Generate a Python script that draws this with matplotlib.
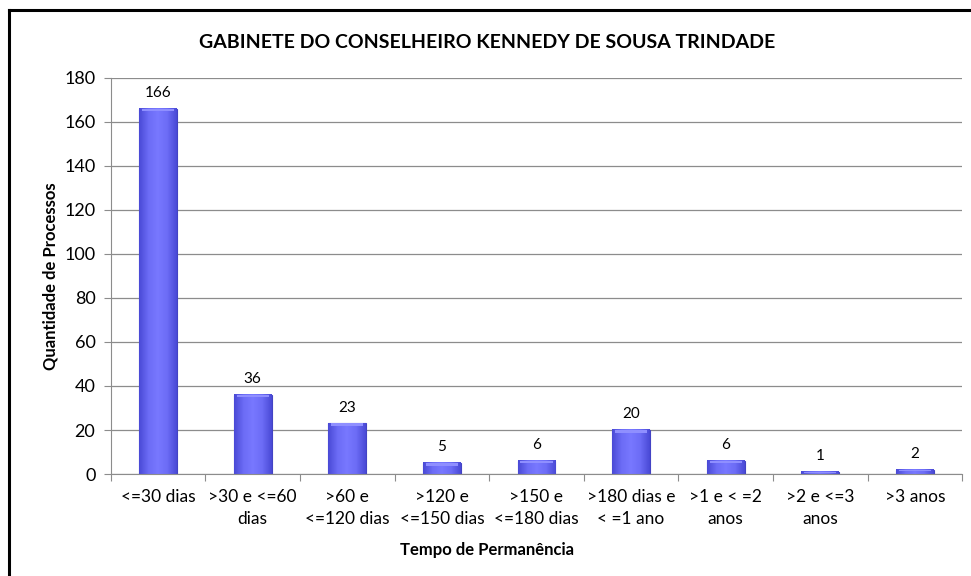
# bar chart - tempo de permanencia dos processos

import numpy as np
import matplotlib.pyplot as plt
from matplotlib.colors import LinearSegmentedColormap
from matplotlib.lines import Line2D

plt.rcParams['font.family'] = ['Lato', 'DejaVu Sans']

categories = ['<=30 dias', '>30 e <=60\ndias', '>60 e\n<=120 dias', '>120 e\n<=150 dias',
              '>150 e\n<=180 dias', '>180 dias e\n< =1 ano', '>1 e < =2\nanos', '>2 e <=3\nanos',
              '>3 anos']
values = [166, 36, 23, 5, 6, 20, 6, 1, 2]

title = 'GABINETE DO CONSELHEIRO KENNEDY DE SOUSA TRINDADE'
x_label = 'Tempo de Permanência'
y_label = 'Quantidade de Processos'

fig = plt.figure(figsize=(9.71, 5.76), dpi=100)
ax = fig.add_axes([0.114, 0.177, 0.877, 0.688])

ind = np.arange(len(values))
width = 0.4

# gradient for the bars (darker on the sides, lighter in the middle)
cmap = LinearSegmentedColormap.from_list('barblue', ['#4a4ad6', '#6c6cf6', '#7878ff', '#6c6cf6', '#4a4ad6'])
grad = np.linspace(0, 1, 64).reshape(1, -1)

bars = ax.bar(ind, values, width, color='#6c6cf6', edgecolor='#4343c4', linewidth=0.8, zorder=2)
for rect in bars:
    x0 = rect.get_x()
    h = rect.get_height()
    ax.imshow(grad, extent=(x0, x0 + width, 0, h), aspect='auto', cmap=cmap, zorder=2.5)
    # lighter top bevel
    bev = min(1.2, h * 0.3)
    ax.fill_between([x0 + 0.03, x0 + width - 0.03], h - bev, h, color='#8f8fff', lw=0, zorder=2.6)

for i, v in enumerate(values):
    ax.text(i, v + 4, str(v), ha='center', va='bottom', fontsize=11, zorder=3)

ax.set_xlim(-0.5, len(values) - 0.5)
ax.set_ylim(0, 180)
ax.set_yticks(np.arange(0, 181, 20))
ax.yaxis.grid(True, color='#8c8c8c', linewidth=0.9, zorder=0)
ax.set_axisbelow(True)

ax.set_xticks(np.arange(len(values) + 1) - 0.5, minor=False)
ax.set_xticklabels([])
ax.set_xticks(ind, minor=True)
ax.set_xticklabels(categories, minor=True, fontsize=12.5, linespacing=1.4)
ax.tick_params(axis='x', which='minor', length=0, pad=11)
ax.tick_params(axis='x', which='major', length=5, color='#8c8c8c')
ax.tick_params(axis='y', length=5, color='#8c8c8c', labelsize=13, pad=6)

for s in ['top', 'right']:
    ax.spines[s].set_visible(False)
for s in ['left', 'bottom']:
    ax.spines[s].set_color('#8c8c8c')

ax.set_ylabel(y_label, fontsize=12, fontweight='bold', labelpad=4)
fig.text(0.502, 0.045, x_label, ha='center', va='center', fontsize=12, fontweight='bold')
fig.text(0.502, 0.927, title, ha='center', va='center', fontsize=14, fontweight='bold')

# frame of the chart (only left and top edges show in the picture)
fig.add_artist(Line2D([0.0093, 0.0093], [0, 0.983], color='black', lw=2.2, transform=fig.transFigure))
fig.add_artist(Line2D([0.0093, 1.0], [0.983, 0.983], color='black', lw=2.2, transform=fig.transFigure))

fig.savefig('out.png', dpi=100)
